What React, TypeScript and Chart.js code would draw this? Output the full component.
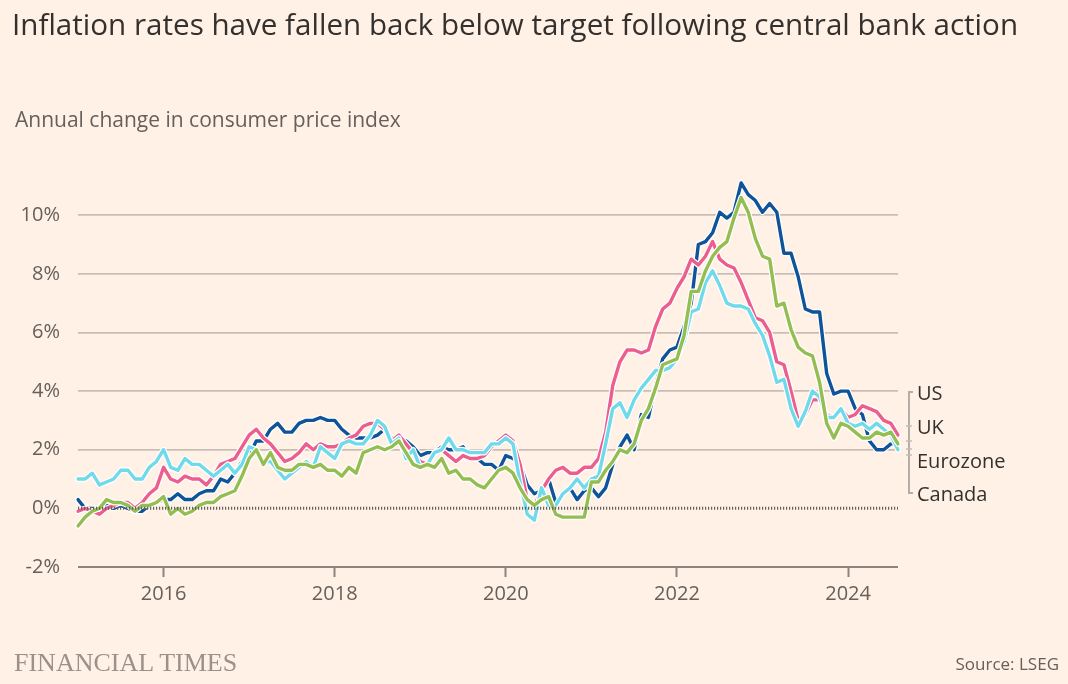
import React, { useEffect, useRef } from "react";
import { Chart, registerables } from "chart.js";

Chart.register(...registerables);

// ---------- DATA (monthly, Jan 2015 – Aug 2024) ----------
const startYear = 2015;
const monthCount = 116;
const months: string[] = [];
for (let i = 0; i < monthCount; i++) {
  const y = startYear + Math.floor(i / 12);
  const m = (i % 12) + 1;
  months.push(`${y}-${m < 10 ? "0" + m : m}`);
}

const usValues = [
  -0.1, 0.0, -0.1, -0.2, 0.0, 0.1, 0.2, 0.2, 0.0, 0.2, 0.5, 0.7,
  1.4, 1.0, 0.9, 1.1, 1.0, 1.0, 0.8, 1.1, 1.5, 1.6, 1.7, 2.1,
  2.5, 2.7, 2.4, 2.2, 1.9, 1.6, 1.7, 1.9, 2.2, 2.0, 2.2, 2.1,
  2.1, 2.2, 2.4, 2.5, 2.8, 2.9, 2.9, 2.7, 2.3, 2.5, 2.2, 1.9,
  1.6, 1.5, 1.9, 2.0, 1.8, 1.6, 1.8, 1.7, 1.7, 1.8, 2.1, 2.3,
  2.5, 2.3, 1.5, 0.3, 0.1, 0.6, 1.0, 1.3, 1.4, 1.2, 1.2, 1.4,
  1.4, 1.7, 2.6, 4.2, 5.0, 5.4, 5.4, 5.3, 5.4, 6.2, 6.8, 7.0,
  7.5, 7.9, 8.5, 8.3, 8.6, 9.1, 8.5, 8.3, 8.2, 7.7, 7.1, 6.5,
  6.4, 6.0, 5.0, 4.9, 4.0, 3.0, 3.2, 3.7, 3.7, 3.2, 3.1, 3.4,
  3.1, 3.2, 3.5, 3.4, 3.3, 3.0, 2.9, 2.5,
];

const ukValues = [
  0.3, 0.0, 0.0, -0.1, 0.1, 0.0, 0.1, 0.0, -0.1, -0.1, 0.1, 0.2,
  0.3, 0.3, 0.5, 0.3, 0.3, 0.5, 0.6, 0.6, 1.0, 0.9, 1.2, 1.6,
  1.8, 2.3, 2.3, 2.7, 2.9, 2.6, 2.6, 2.9, 3.0, 3.0, 3.1, 3.0,
  3.0, 2.7, 2.5, 2.4, 2.4, 2.4, 2.5, 2.7, 2.4, 2.4, 2.3, 2.1,
  1.8, 1.9, 1.9, 2.1, 2.0, 2.0, 2.1, 1.7, 1.7, 1.5, 1.5, 1.3,
  1.8, 1.7, 1.5, 0.8, 0.5, 0.6, 1.0, 0.2, 0.5, 0.7, 0.3, 0.6,
  0.7, 0.4, 0.7, 1.5, 2.1, 2.5, 2.0, 3.2, 3.1, 4.2, 5.1, 5.4,
  5.5, 6.2, 7.0, 9.0, 9.1, 9.4, 10.1, 9.9, 10.1, 11.1, 10.7, 10.5,
  10.1, 10.4, 10.1, 8.7, 8.7, 7.9, 6.8, 6.7, 6.7, 4.6, 3.9, 4.0,
  4.0, 3.4, 3.2, 2.3, 2.0, 2.0, 2.2, 2.2,
];

const eurozoneValues = [
  -0.6, -0.3, -0.1, 0.0, 0.3, 0.2, 0.2, 0.1, -0.1, 0.1, 0.1, 0.2,
  0.4, -0.2, 0.0, -0.2, -0.1, 0.1, 0.2, 0.2, 0.4, 0.5, 0.6, 1.1,
  1.7, 2.0, 1.5, 1.9, 1.4, 1.3, 1.3, 1.5, 1.5, 1.4, 1.5, 1.3,
  1.3, 1.1, 1.4, 1.2, 1.9, 2.0, 2.1, 2.0, 2.1, 2.3, 1.9, 1.5,
  1.4, 1.5, 1.4, 1.7, 1.2, 1.3, 1.0, 1.0, 0.8, 0.7, 1.0, 1.3,
  1.4, 1.2, 0.7, 0.3, 0.1, 0.3, 0.4, -0.2, -0.3, -0.3, -0.3, -0.3,
  0.9, 0.9, 1.3, 1.6, 2.0, 1.9, 2.2, 3.0, 3.4, 4.1, 4.9, 5.0,
  5.1, 5.9, 7.4, 7.4, 8.1, 8.6, 8.9, 9.1, 9.9, 10.6, 10.1, 9.2,
  8.6, 8.5, 6.9, 7.0, 6.1, 5.5, 5.3, 5.2, 4.3, 2.9, 2.4, 2.9,
  2.8, 2.6, 2.4, 2.4, 2.6, 2.5, 2.6, 2.2,
];

const canadaValues = [
  1.0, 1.0, 1.2, 0.8, 0.9, 1.0, 1.3, 1.3, 1.0, 1.0, 1.4, 1.6,
  2.0, 1.4, 1.3, 1.7, 1.5, 1.5, 1.3, 1.1, 1.3, 1.5, 1.2, 1.5,
  2.1, 2.0, 1.6, 1.6, 1.3, 1.0, 1.2, 1.4, 1.6, 1.4, 2.1, 1.9,
  1.7, 2.2, 2.3, 2.2, 2.2, 2.5, 3.0, 2.8, 2.2, 2.4, 1.7, 2.0,
  1.4, 1.5, 1.9, 2.0, 2.4, 2.0, 2.0, 1.9, 1.9, 1.9, 2.2, 2.2,
  2.4, 2.2, 0.9, -0.2, -0.4, 0.7, 0.1, 0.1, 0.5, 0.7, 1.0, 0.7,
  1.0, 1.1, 2.2, 3.4, 3.6, 3.1, 3.7, 4.1, 4.4, 4.7, 4.7, 4.8,
  5.1, 5.7, 6.7, 6.8, 7.7, 8.1, 7.6, 7.0, 6.9, 6.9, 6.8, 6.3,
  5.9, 5.2, 4.3, 4.4, 3.4, 2.8, 3.3, 4.0, 3.8, 3.1, 3.1, 3.4,
  2.9, 2.8, 2.9, 2.7, 2.9, 2.7, 2.5, 2.0,
];

const yTickValues = [-2, 0, 2, 4, 6, 8, 10];
const xTickYears = ["2016", "2018", "2020", "2022", "2024"];
const legendLabels = ["US", "UK", "Eurozone", "Canada"];

const TITLE = "Inflation rates have fallen back below target following central bank action";
const SUBTITLE = "Annual change in consumer price index";
const SOURCE = "Source: LSEG";
const BRAND = "FINANCIAL TIMES";

// ---------- STYLE ----------
const BG = "#fff1e5";
const FONT = "'Open Sans', sans-serif";
const TEXT_DARK = "#33302e";
const TEXT_MID = "#66605c";
const GRID = "#c8beb5";
const AXIS = "#8c847e";
const C_US = "#eb5e8d";
const C_UK = "#0f5499";
const C_EZ = "#94bd52";
const C_CA = "#70d9ea";

function series(label: string, data: number[], color: string, order: number) {
  return [
    {
      label,
      data,
      borderColor: color,
      borderWidth: 3.4,
      pointRadius: 0,
      tension: 0,
      borderJoinStyle: "round" as const,
      borderCapStyle: "round" as const,
      fill: false,
      order,
    },
    {
      label: label + "-halo",
      data,
      borderColor: "#ffffff",
      borderWidth: 5.8,
      pointRadius: 0,
      tension: 0,
      borderJoinStyle: "round" as const,
      borderCapStyle: "round" as const,
      fill: false,
      order: order + 1,
    },
  ];
}

const overlayPlugin = {
  id: "ftOverlay",
  afterDatasetsDraw(chart: any) {
    const { ctx, chartArea, scales } = chart;
    const y0 = scales.y.getPixelForValue(0);
    ctx.save();
    // dotted zero line
    ctx.strokeStyle = "#66605c";
    ctx.lineWidth = 3;
    ctx.setLineDash([1.2, 1.8]);
    ctx.beginPath();
    ctx.moveTo(chartArea.left, y0);
    ctx.lineTo(chartArea.right, y0);
    ctx.stroke();
    ctx.setLineDash([]);
    // label bracket
    const bx = chartArea.right + 11;
    const top = 392;
    const bot = 493;
    ctx.strokeStyle = "#b5ada7";
    ctx.lineWidth = 2;
    ctx.beginPath();
    ctx.moveTo(bx + 4, top);
    ctx.lineTo(bx, top);
    ctx.lineTo(bx, bot);
    ctx.lineTo(bx + 4, bot);
    ctx.stroke();
    ctx.lineWidth = 1.5;
    ctx.strokeStyle = "#c4bcb5";
    [426, 441, 449, 455].forEach((yy) => {
      ctx.beginPath();
      ctx.moveTo(bx - 3, yy);
      ctx.lineTo(bx + 3, yy);
      ctx.stroke();
    });
    ctx.restore();
  },
};

export default function App() {
  const ref = useRef<HTMLCanvasElement | null>(null);

  useEffect(() => {
    document.body.style.margin = "0";
    document.body.style.background = BG;
    const canvas = ref.current;
    if (!canvas) return;
    const chart = new Chart(canvas, {
      type: "line",
      data: {
        labels: months,
        datasets: [
          ...series("Eurozone", eurozoneValues, C_EZ, 1),
          ...series("Canada", canadaValues, C_CA, 3),
          ...series("US", usValues, C_US, 5),
          ...series("UK", ukValues, C_UK, 7),
        ] as any,
      },
      options: {
        animation: false,
        responsive: false,
        devicePixelRatio: 1,
        events: [],
        layout: { padding: { left: 0, right: 170, top: 180, bottom: 77 } },
        plugins: {
          legend: { display: false },
          tooltip: { enabled: false },
          title: { display: false },
        },
        scales: {
          x: {
            type: "category",
            offset: false,
            afterBuildTicks: (scale: any) => {
              scale.ticks = scale.ticks.filter((t: any) => {
                const lab = months[t.value];
                return lab.endsWith("-01") && xTickYears.includes(lab.slice(0, 4));
              });
            },
            afterFit: (scale: any) => {
              scale.height = 40;
            },
            ticks: {
              autoSkip: false,
              maxRotation: 0,
              padding: 5,
              color: TEXT_MID,
              font: { family: FONT, size: 20 },
              callback: (v: any) => months[v].slice(0, 4),
            },
            grid: {
              drawOnChartArea: false,
              drawTicks: true,
              tickLength: 10,
              tickColor: AXIS,
              tickWidth: 2,
            },
            border: { display: false },
          },
          y: {
            type: "linear",
            min: -2,
            max: 11.2,
            afterBuildTicks: (scale: any) => {
              scale.ticks = yTickValues.map((v) => ({ value: v }));
            },
            afterFit: (scale: any) => {
              scale.width = 78;
            },
            ticks: {
              padding: 18,
              color: TEXT_MID,
              font: { family: FONT, size: 20 },
              callback: (v: any) => `${v}%`,
            },
            grid: {
              drawTicks: false,
              color: (c: any) =>
                c.tick && c.tick.value === 0
                  ? "rgba(0,0,0,0)"
                  : c.tick && c.tick.value === -2
                  ? AXIS
                  : GRID,
              lineWidth: (c: any) => (c.tick && c.tick.value === -2 ? 2 : 1.7),
            },
            border: { display: false },
          },
        },
      },
      plugins: [overlayPlugin],
    });
    return () => chart.destroy();
  }, []);

  const legendTops = [379, 413, 447, 480];

  return (
    <div
      style={{
        position: "relative",
        width: 1068,
        height: 684,
        background: BG,
        overflow: "hidden",
        fontFamily: FONT,
      }}
    >
      <canvas
        ref={ref}
        width={1068}
        height={684}
        style={{ position: "absolute", left: 0, top: 0, width: 1068, height: 684 }}
      />
      <div
        style={{
          position: "absolute",
          left: 12,
          top: 4,
          fontSize: 29.6,
          lineHeight: "40px",
          color: TEXT_DARK,
          whiteSpace: "nowrap",
        }}
      >
        {TITLE}
      </div>
      <div
        style={{
          position: "absolute",
          left: 15,
          top: 105,
          fontSize: 21,
          lineHeight: "29px",
          color: TEXT_MID,
          whiteSpace: "nowrap",
        }}
      >
        {SUBTITLE}
      </div>
      {legendLabels.map((lab, i) => (
        <div
          key={lab}
          style={{
            position: "absolute",
            left: 917,
            top: legendTops[i],
            fontSize: 20,
            lineHeight: "27px",
            color: TEXT_DARK,
            whiteSpace: "nowrap",
          }}
        >
          {lab}
        </div>
      ))}
      <div
        style={{
          position: "absolute",
          left: 14,
          top: 648,
          fontFamily: "'Liberation Serif', serif",
          fontSize: 26,
          lineHeight: "30px",
          color: "#9b918a",
          whiteSpace: "nowrap",
        }}
      >
        {BRAND}
      </div>
      <div
        style={{
          position: "absolute",
          right: 9,
          top: 652,
          fontSize: 17,
          lineHeight: "24px",
          color: TEXT_MID,
          whiteSpace: "nowrap",
        }}
      >
        {SOURCE}
      </div>
    </div>
  );
}
